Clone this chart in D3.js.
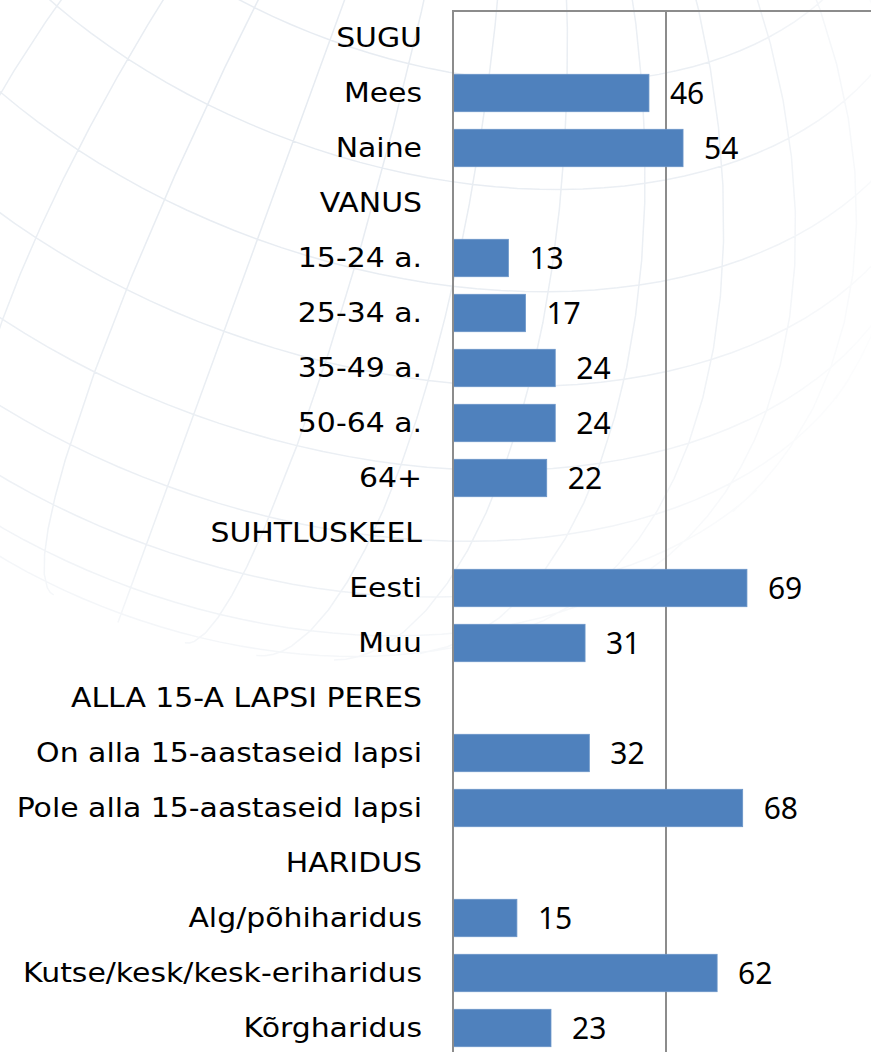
<!DOCTYPE html>
<html>
<head>
<meta charset="utf-8">
<script src="https://cdn.jsdelivr.net/npm/d3@7"></script>
<style>
  html, body { margin: 0; padding: 0; background: #fff; }
  svg { display: block; }
</style>
</head>
<body>
<svg id="chart" width="871" height="1052"></svg>
<script>
"use strict";

// ── data ──────────────────────────────────────────────────────────────────────
const categories = [
  "SUGU", "Mees", "Naine",
  "VANUS", "15-24 a.", "25-34 a.", "35-49 a.", "50-64 a.", "64+",
  "SUHTLUSKEEL", "Eesti", "Muu",
  "ALLA 15-A LAPSI PERES", "On alla 15-aastaseid lapsi", "Pole alla 15-aastaseid lapsi",
  "HARIDUS", "Alg/põhiharidus", "Kutse/kesk/kesk-eriharidus", "Kõrgharidus",
];
const values = [
  null, 46, 54,
  null, 13, 17, 24, 24, 22,
  null, 69, 31,
  null, 32, 68,
  null, 15, 62, 23,
];
const gridValues = [50, 100];

// ── layout ────────────────────────────────────────────────────────────────────
const W = 871, H = 1052;
const plot = { left: 453, top: 11, right: 879, bottom: 1055.5 };

const svg = d3.select("#chart");

// faint globe watermark
const defs = svg.append("defs");
const fade = defs.append("radialGradient").attr("id", "wm-fade")
  .attr("gradientUnits", "userSpaceOnUse")
  .attr("cx", 300).attr("cy", 120).attr("r", 640);
fade.append("stop").attr("offset", "0%").attr("stop-color", "#fff").attr("stop-opacity", 1);
fade.append("stop").attr("offset", "70%").attr("stop-color", "#fff").attr("stop-opacity", 0.75);
fade.append("stop").attr("offset", "100%").attr("stop-color", "#fff").attr("stop-opacity", 0);
defs.append("mask").attr("id", "wm-mask")
  .append("rect").attr("width", W).attr("height", H).attr("fill", "url(#wm-fade)");

const globe = d3.geoOrthographic()
  .scale(620).translate([330, 40]).rotate([30, -40, -20]).clipAngle(90);
svg.append("path")
  .datum(d3.geoGraticule().step([10, 10])())
  .attr("d", d3.geoPath(globe))
  .attr("fill", "none")
  .attr("stroke", "#e6ebf1")
  .attr("stroke-width", 1.5)
  .attr("mask", "url(#wm-mask)");

// ── scales ────────────────────────────────────────────────────────────────────
const x = d3.scaleLinear().domain([0, 100]).range([plot.left, plot.right]);
const y = d3.scaleBand().domain(categories)
  .range([10.5, plot.bottom]).paddingInner(0.32).paddingOuter(0.16);

// grid line at 50 + frame top
svg.append("g")
  .selectAll("line").data(gridValues.filter(v => x(v) < W)).join("line")
  .attr("x1", d => x(d)).attr("x2", d => x(d))
  .attr("y1", plot.top).attr("y2", H)
  .attr("stroke", "#8c8c8c").attr("stroke-width", 2);

svg.append("line")
  .attr("x1", plot.left).attr("x2", W)
  .attr("y1", plot.top).attr("y2", plot.top)
  .attr("stroke", "#8c8c8c").attr("stroke-width", 2);

// bars
const rows = categories.map((c, i) => ({ cat: c, val: values[i] }));
const barRows = rows.filter(d => d.val != null);

svg.append("g")
  .selectAll("rect").data(barRows).join("rect")
  .attr("x", x(0))
  .attr("y", d => y(d.cat))
  .attr("width", d => x(d.val) - x(0))
  .attr("height", y.bandwidth())
  .attr("fill", "#4f81bd")
  .attr("stroke", "#6a95c8").attr("stroke-width", 0.8);

// value labels
svg.append("g")
  .selectAll("text").data(barRows).join("text")
  .attr("x", d => x(d.val) + 21)
  .attr("y", d => y(d.cat) + y.bandwidth() / 2)
  .attr("dy", "0.36em")
  .attr("font-family", "'Noto Sans', sans-serif")
  .attr("font-size", 30)
  .attr("fill", "#000")
  .text(d => d.val);

// category axis
const yAxis = svg.append("g")
  .attr("transform", `translate(${plot.left},0)`)
  .call(d3.axisLeft(y).tickSize(0).tickPadding(0));
yAxis.select(".domain").remove();
yAxis.selectAll(".tick text")
  .attr("x", 0).attr("dy", "0.36em")
  .attr("transform", "translate(-31,0) scale(1.15,1)")
  .attr("font-family", "'DejaVu Sans', sans-serif")
  .attr("font-size", 26)
  .attr("fill", "#000");

// value axis line (drawn last so it sits on top of bar edges)
svg.append("line")
  .attr("x1", plot.left).attr("x2", plot.left)
  .attr("y1", plot.top - 1).attr("y2", H)
  .attr("stroke", "#8c8c8c").attr("stroke-width", 2);
</script>
</body>
</html>
